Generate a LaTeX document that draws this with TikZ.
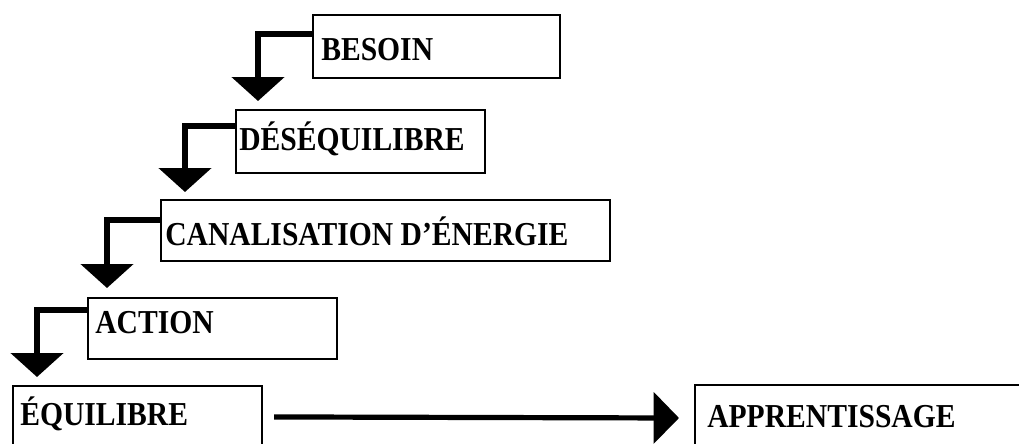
\documentclass[tikz,border=0pt]{standalone}
\usepackage{fontspec}
\setmainfont{Liberation Serif}
\usetikzlibrary{arrows.meta,fit,calc}
\newcommand{\ltxt}[1]{\scalebox{1}[1.13]{#1}}
\begin{document}
\begin{tikzpicture}[x=0.75pt,y=-0.75pt,
  box/.style={draw=black, line width=1.6pt, inner sep=0pt},
  lbl/.style={anchor=base west, inner sep=0pt, font=\fontsize{22.2}{24}\selectfont\bfseries},
  conn/.style={line width=3.9pt, -{Triangle[width=39pt 0 0,length=18pt 0 0]}},
  hconn/.style={line width=3.9pt, -{Triangle[width=38pt 0 0,length=19pt 0 0]}}]
\useasboundingbox (0,0) rectangle (1019,443);
\clip (0,0) rectangle (1019,443);
% boxes
\node[box, fit={(313,15)(560,78)}] (b1) {};
\node[box, fit={(236,110)(485,173)}] (b2) {};
\node[box, fit={(161,200)(610,261)}] (b3) {};
\node[box, fit={(88,298)(337,359)}] (b4) {};
\node[box, fit={(13,386)(262,490)}] (b5) {};
\node[box, fit={(695,385)(1100,490)}] (b6) {};
% labels
\node[lbl] (t1) at (321,60) {\ltxt{BESOIN}};
\node[lbl] (t2) at (239,150) {\ltxt{DÉSÉQUILIBRE}};
\node[lbl] (t3) at (165,245) {\ltxt{CANALISATION D’ÉNERGIE}};
\node[lbl] (t4) at (95,333) {\ltxt{ACTION}};
\node[lbl] (t5) at (20,425) {\ltxt{ÉQUILIBRE}};
\node[lbl] (t6) at (707,427) {\ltxt{APPRENTISSAGE}};
% connectors
\coordinate (s1) at ($(b1.north west)+(0,20)$);
\coordinate (e1) at (258,101);
\draw[conn] (s1) -| (e1);
\coordinate (s2) at ($(b2.north west)+(0,17)$);
\coordinate (e2) at (185,192);
\draw[conn] (s2) -| (e2);
\coordinate (s3) at ($(b3.north west)+(0,21)$);
\coordinate (e3) at (107,288);
\draw[conn] (s3) -| (e3);
\coordinate (s4) at ($(b4.north west)+(0,13)$);
\coordinate (e4) at (37,377);
\draw[conn] (s4) -| (e4);
\coordinate (s5) at ($(b5.north east)+(11,32)$);
\coordinate (e5) at (679,418);
\draw[hconn] (s5) -- (e5);
\end{tikzpicture}
\end{document}
